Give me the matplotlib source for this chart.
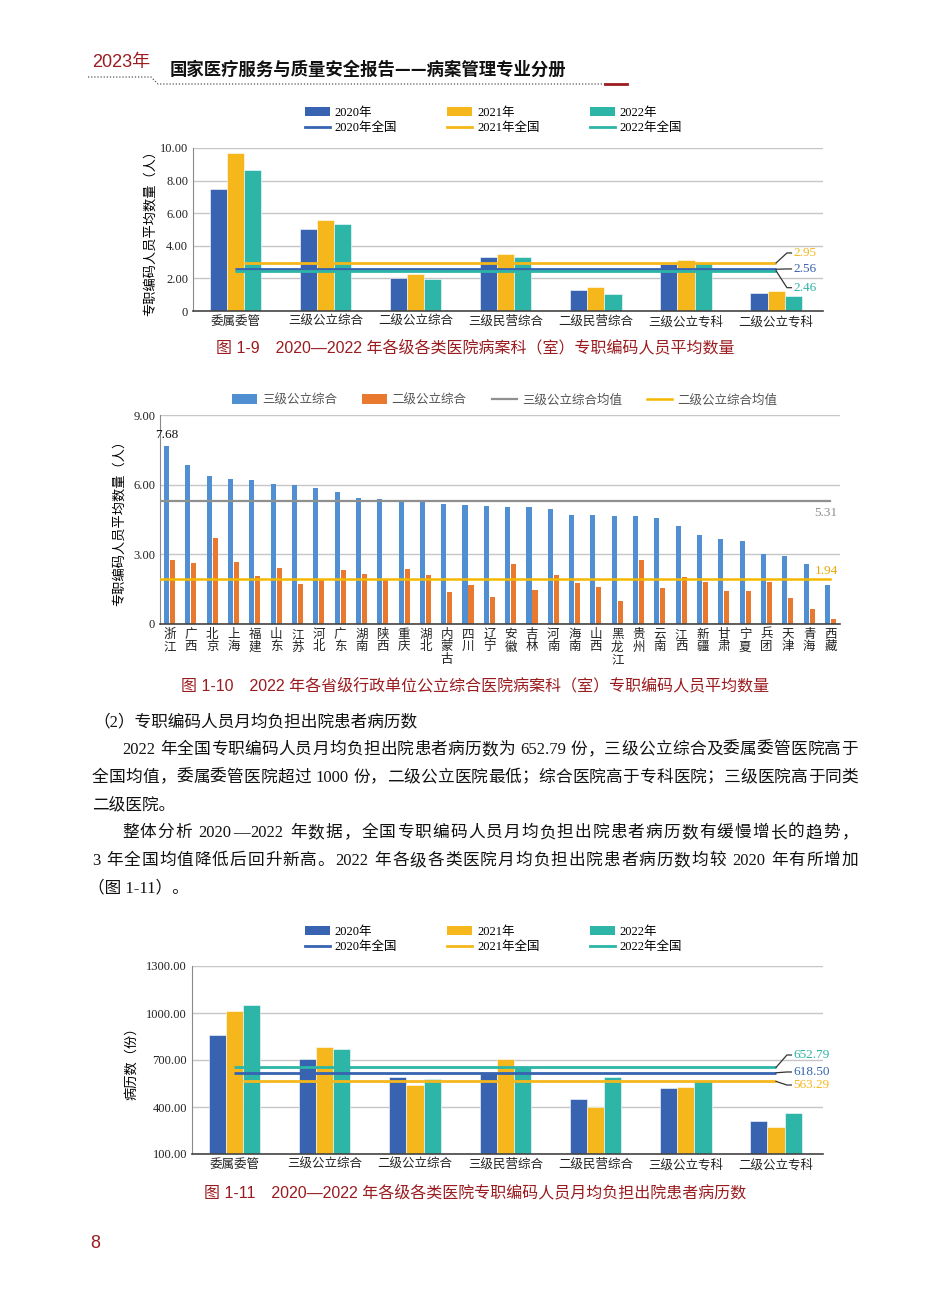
import matplotlib
matplotlib.use("Agg")
import matplotlib.pyplot as plt
from matplotlib.patches import Patch
from matplotlib.lines import Line2D
import numpy as np

plt.rcParams['font.family'] = ['Liberation Serif', 'Noto Sans CJK SC']
plt.rcParams['axes.unicode_minus'] = False

W, H = 950, 1289

# ---- data ----
hosp_types = ['委属委管', '三级公立综合', '二级公立综合', '三级民营综合',
              '二级民营综合', '三级公立专科', '二级公立专科']
years = ['2020年', '2021年', '2022年']

staff_2020 = [7.48, 5.06, 2.01, 3.30, 1.29, 2.89, 1.11]
staff_2021 = [9.69, 5.57, 2.27, 3.52, 1.45, 3.11, 1.21]
staff_2022 = [8.63, 5.33, 1.95, 3.34, 1.07, 2.97, 0.90]
staff_national = [2.56, 2.95, 2.46]

provinces = ['浙江', '广西', '北京', '上海', '福建', '山东', '江苏', '河北', '广东',
             '湖南', '陕西', '重庆', '湖北', '内蒙古', '四川', '辽宁', '安徽', '吉林',
             '河南', '海南', '山西', '黑龙江', '贵州', '云南', '江西', '新疆', '甘肃',
             '宁夏', '兵团', '天津', '青海', '西藏']
prov_tier3 = [7.68, 6.83, 6.37, 6.23, 6.19, 6.03, 5.99, 5.86, 5.70,
              5.41, 5.37, 5.30, 5.29, 5.17, 5.14, 5.06, 5.04, 5.03,
              4.94, 4.71, 4.71, 4.67, 4.66, 4.56, 4.23, 3.83, 3.67,
              3.59, 3.00, 2.93, 2.59, 1.67]
prov_tier2 = [2.74, 2.61, 3.71, 2.66, 2.07, 2.39, 1.73, 1.94, 2.31,
              2.14, 1.94, 2.36, 2.11, 1.39, 1.67, 1.16, 2.59, 1.46,
              2.09, 1.76, 1.59, 1.00, 2.77, 1.56, 2.04, 1.83, 1.40,
              1.40, 1.83, 1.11, 0.66, 0.23]
tier3_mean = 5.31
tier2_mean = 1.94

cases_2020 = [857, 708, 590, 621, 450, 524, 308]
cases_2021 = [1014, 785, 543, 704, 403, 526, 272]
cases_2022 = [1054, 770, 577, 653, 590, 571, 361]
cases_national = [618.50, 563.29, 652.79]

# ---- style ----
C_YEAR = ['#3763b1', '#f5b71b', '#2db5a7']
BLUE2, ORANGE2 = '#4f8fd2', '#e8792f'
GRAYL, YELL = '#8f8f8f', '#f5b800'
RED = '#9b1c20'
GRID = '#c6c6c6'
SANS = ['Liberation Sans', 'Noto Sans CJK SC']

fig = plt.figure(figsize=(W / 100, H / 100), dpi=100)


def px_axes(x0, y0, x1, y1):
    return fig.add_axes([x0 / W, 1 - y1 / H, (x1 - x0) / W, (y1 - y0) / H])


def ftext(x, y, s, **kw):
    return fig.text(x / W, 1 - y / H, s, **kw)


def fline(xs, ys, **kw):
    fig.add_artist(Line2D([x / W for x in xs], [1 - y / H for y in ys],
                          transform=fig.transFigure, **kw))


def style_axes(ax):
    for s in ['top', 'right']:
        ax.spines[s].set_visible(False)
    ax.spines['left'].set_color('#8a8a8a')
    ax.spines['bottom'].set_color('#444444')
    ax.spines['bottom'].set_linewidth(1.2)
    ax.tick_params(length=0, labelsize=9, colors='#222222')
    ax.yaxis.grid(True, color=GRID, lw=1)
    ax.set_axisbelow(True)


def grouped_chart(ax, series, national, lo, hi, ticks, offsets, leg_y):
    x = np.arange(len(hosp_types))
    w = 0.19
    for i, vals in enumerate(series):
        ax.bar(x + (i - 1) * w, vals, w, color=C_YEAR[i], edgecolor='white',
               linewidth=0.4, zorder=2)
    starts = [0.0, 0.1, 0.0]
    for i, v in enumerate(national):
        ax.plot([starts[i], x[-1]], [v, v], color=C_YEAR[i], lw=2, zorder=4,
                solid_capstyle='butt')
        ly = v + offsets[i]
        ax.plot([x[-1], x[-1] + 0.12, x[-1] + 0.17], [v, ly, ly],
                color='#333333', lw=0.9, zorder=4, clip_on=False)
        ax.text(x[-1] + 0.19, ly, f'{v:.2f}', color=C_YEAR[i], fontsize=9.5,
                va='center', ha='left')
    ax.set_xlim(-0.47, 6.52)
    ax.set_ylim(lo, hi)
    ax.set_yticks(ticks)
    ax.set_yticklabels(['0' if t == 0 else f'{t:.2f}' for t in ticks])
    ax.set_xticks(x)
    ax.set_xticklabels(hosp_types, fontsize=9)
    style_axes(ax)
    handles = []
    labels = []
    for i, yr in enumerate(years):
        handles += [Patch(facecolor=C_YEAR[i]), Line2D([], [], color=C_YEAR[i], lw=2)]
        labels += [yr, yr + '全国']
    fig.legend(handles, labels, ncol=3, loc='upper left',
               bbox_to_anchor=(296 / W, 1 - leg_y / H), frameon=False,
               fontsize=9, handlelength=2.0, handleheight=0.8,
               handletextpad=0.4, columnspacing=4.0, labelspacing=0.25,
               borderpad=0.2)


# ---- header ----
ftext(92, 62, '2023年', color=RED, fontsize=13, family=SANS, va='center')
ftext(170, 70, '国家医疗服务与质量安全报告——病案管理专业分册', fontsize=12.5,
      family=['Noto Sans CJK SC'], weight='bold', va='center', color='#111111')
fline([88, 151, 158, 605], [77, 77, 84, 84], color='#555555', lw=0.9, ls=(0, (1, 1.5)))
fline([605, 627], [84, 84], color=RED, lw=2)

# ---- chart 1 ----
ax1 = px_axes(193, 148, 823, 311)
grouped_chart(ax1, [staff_2020, staff_2021, staff_2022], staff_national,
              0, 10, [0, 2, 4, 6, 8, 10], [0.02, 0.61, -1.03], 98)
ax1.set_ylabel('专职编码人员平均数量（人）', fontsize=9.5, labelpad=2)
ftext(475, 348, '图 1-9\u30002020—2022 年各级各类医院病案科（室）专职编码人员平均数量',
      color=RED, fontsize=11.5, family=SANS, ha='center', va='center')

# ---- chart 2 ----
ax2 = px_axes(160, 415, 840, 624)
xp = np.arange(len(provinces))
bw = 0.24
b3 = ax2.bar(xp - 0.14, prov_tier3, bw, color=BLUE2, zorder=2)
b2 = ax2.bar(xp + 0.14, prov_tier2, bw, color=ORANGE2, zorder=2)
l3, = ax2.plot([-0.45, xp[-1]], [tier3_mean, tier3_mean], color=GRAYL, lw=1.6, zorder=3)
l2, = ax2.plot([-0.45, xp[-1]], [tier2_mean, tier2_mean], color=YELL, lw=1.8, zorder=3)
ax2.text(xp[-1] + 0.35, tier3_mean - 0.55, f'{tier3_mean:.2f}', color=GRAYL,
         fontsize=9.5, ha='right', va='center')
ax2.text(xp[-1] + 0.35, tier2_mean + 0.33, f'{tier2_mean:.2f}', color='#e8a800',
         fontsize=9.5, ha='right', va='center')
ax2.text(xp[0] - 0.14, prov_tier3[0] + 0.2, f'{prov_tier3[0]:.2f}', fontsize=9.5,
         ha='center', va='bottom', color='#111111')
ax2.set_xlim(-0.45, len(provinces) - 0.55)
ax2.set_ylim(0, 9)
ax2.set_yticks([0, 3, 6, 9])
ax2.set_yticklabels(['0', '3.00', '6.00', '9.00'])
ax2.set_xticks(xp)
ax2.set_xticklabels(['\n'.join(p) for p in provinces], fontsize=9.5,
                    linespacing=1.05, va='top')
style_axes(ax2)
ax2.set_ylabel('专职编码人员平均数量（人）', fontsize=9.5, labelpad=5)
fig.legend([b3, b2, l3, l2], ['三级公立综合', '二级公立综合', '三级公立综合均值', '二级公立综合均值'],
           ncol=4, loc='upper left',
           bbox_to_anchor=(223 / W, 1 - 385 / H), frameon=False, fontsize=9,
           handlelength=2.0, handleheight=0.8, handletextpad=0.4,
           columnspacing=2.0, borderpad=0.2, labelcolor='#555555')
ftext(475, 686, '图 1-10\u30002022 年各省级行政单位公立综合医院病案科（室）专职编码人员平均数量',
      color=RED, fontsize=11.5, family=SANS, ha='center', va='center')

# ---- chart 3 ----
ax3 = px_axes(192, 966, 823, 1154)
grouped_chart(ax3, [cases_2020, cases_2021, cases_2022], cases_national,
              100, 1300, [100, 400, 700, 1000, 1300], [5, -23, 79], 917)
ax3.set_ylabel('病历数（份）', fontsize=9.5, labelpad=6)
ftext(475, 1193, '图 1-11\u30002020—2022 年各级各类医院专职编码人员月均负担出院患者病历数',
      color=RED, fontsize=11.5, family=SANS, ha='center', va='center')

ftext(95, 1244, '8', color=RED, fontsize=13, family=SANS, ha='center', va='center')

# ---- body text (justified lines) ----
body = [
    (93, '（2）专职编码人员月均负担出院患者病历数', False),
    (122, '2022 年全国专职编码人员月均负担出院患者病历数为 652.79 份，三级公立综合及委属委管医院高于', True),
    (92, '全国均值，委属委管医院超过 1000 份，二级公立医院最低；综合医院高于专科医院；三级医院高于同类', True),
    (92, '二级医院。', False),
    (122, '整体分析 2020—2022 年数据，全国专职编码人员月均负担出院患者病历数有缓慢增长的趋势，', True),
    (92, '3 年全国均值降低后回升新高。2022 年各级各类医院月均负担出院患者病历数均较 2020 年有所增加', True),
    (88, '（图 1-11）。', False),
]
RIGHT = 858
BODY_FS = 12.0
fig.canvas.draw()
rend = fig.canvas.get_renderer()


def tokens(s):
    out, run = [], ''
    for ch in s:
        if ch.isascii() and ch != ' ':
            run += ch
        else:
            if run:
                out.append(run)
                run = ''
            out.append(ch)
    if run:
        out.append(run)
    return out


for k, (x0, line, justify) in enumerate(body):
    y = 722 + k * 27.8
    if not justify:
        ftext(x0, y, line, fontsize=BODY_FS, va='center', color='#111111')
        continue
    toks = tokens(line)
    widths = []
    arts = []
    for t in toks:
        if t == ' ':
            widths.append(BODY_FS * 0.25 * 100 / 72)
            arts.append(None)
            continue
        a = ftext(0, y, t, fontsize=BODY_FS, va='center', color='#111111')
        widths.append(a.get_window_extent(rend).width)
        arts.append(a)
    gap = (RIGHT - x0 - sum(widths)) / max(len(toks) - 1, 1)
    xc = x0
    for a, wd in zip(arts, widths):
        if a is not None:
            a.set_x(xc / W)
        xc += wd + gap

fig.savefig('out.png', dpi=100)
